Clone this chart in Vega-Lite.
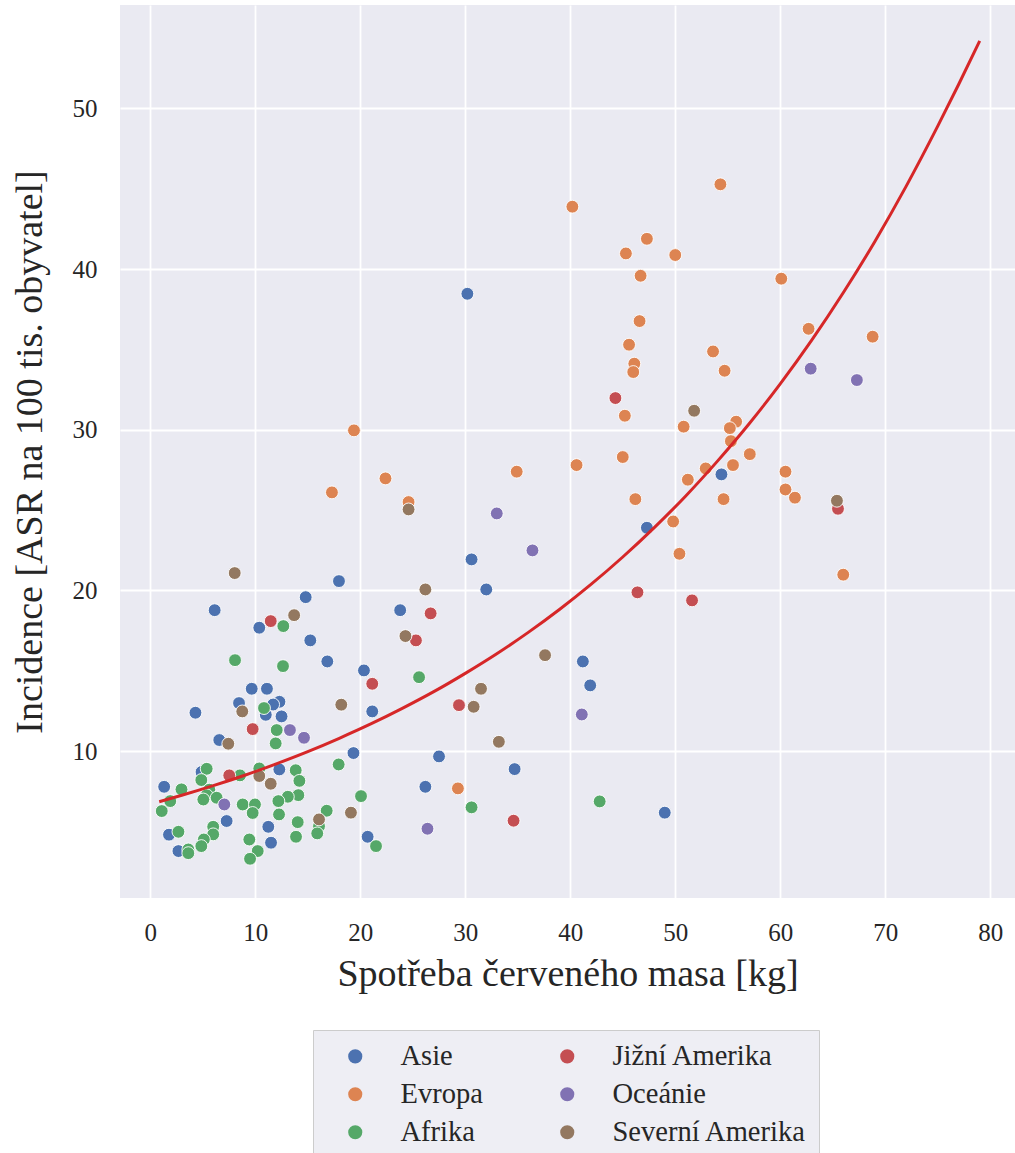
{
  "$schema": "https://vega.github.io/schema/vega-lite/v6.json",
  "width": 895,
  "height": 893,
  "autosize": {"type": "none"},
  "padding": {"left": 120, "top": 5, "right": 0, "bottom": 255},
  "background": "white",
  "config": {
    "view": {"fill": "#eaeaf2", "stroke": null},
    "axis": {
      "domain": false,
      "ticks": false,
      "grid": true,
      "gridColor": "white",
      "gridWidth": 1.8,
      "labelFont": "Liberation Serif",
      "labelFontSize": 25,
      "labelColor": "#262626",
      "titleFont": "Liberation Serif",
      "titleFontSize": 38,
      "titleFontWeight": "normal",
      "titleColor": "#262626"
    },
    "legend": {
      "labelFont": "Liberation Serif",
      "labelFontSize": 28.5,
      "labelColor": "#262626",
      "labelLimit": 400
    }
  },
  "datasets": {
    "points": [
      {"spotreba": 30.2, "incidence": 38.46, "kontinent": "Asie"},
      {"spotreba": 54.4, "incidence": 27.22, "kontinent": "Asie"},
      {"spotreba": 47.3, "incidence": 23.9, "kontinent": "Asie"},
      {"spotreba": 30.6, "incidence": 21.93, "kontinent": "Asie"},
      {"spotreba": 32.0, "incidence": 20.06, "kontinent": "Asie"},
      {"spotreba": 17.97, "incidence": 20.58, "kontinent": "Asie"},
      {"spotreba": 14.8, "incidence": 19.58, "kontinent": "Asie"},
      {"spotreba": 6.13, "incidence": 18.77, "kontinent": "Asie"},
      {"spotreba": 23.8, "incidence": 18.77, "kontinent": "Asie"},
      {"spotreba": 10.38, "incidence": 17.68, "kontinent": "Asie"},
      {"spotreba": 15.24, "incidence": 16.89, "kontinent": "Asie"},
      {"spotreba": 16.86, "incidence": 15.58, "kontinent": "Asie"},
      {"spotreba": 41.2, "incidence": 15.58, "kontinent": "Asie"},
      {"spotreba": 20.35, "incidence": 15.02, "kontinent": "Asie"},
      {"spotreba": 41.9, "incidence": 14.09, "kontinent": "Asie"},
      {"spotreba": 9.66, "incidence": 13.88, "kontinent": "Asie"},
      {"spotreba": 11.11, "incidence": 13.88, "kontinent": "Asie"},
      {"spotreba": 12.3, "incidence": 13.07, "kontinent": "Asie"},
      {"spotreba": 11.7, "incidence": 12.9, "kontinent": "Asie"},
      {"spotreba": 8.45, "incidence": 12.99, "kontinent": "Asie"},
      {"spotreba": 4.3, "incidence": 12.39, "kontinent": "Asie"},
      {"spotreba": 21.14, "incidence": 12.47, "kontinent": "Asie"},
      {"spotreba": 11.0, "incidence": 12.26, "kontinent": "Asie"},
      {"spotreba": 12.5, "incidence": 12.16, "kontinent": "Asie"},
      {"spotreba": 6.57, "incidence": 10.69, "kontinent": "Asie"},
      {"spotreba": 19.35, "incidence": 9.88, "kontinent": "Asie"},
      {"spotreba": 27.5, "incidence": 9.67, "kontinent": "Asie"},
      {"spotreba": 34.7, "incidence": 8.88, "kontinent": "Asie"},
      {"spotreba": 4.88, "incidence": 8.7, "kontinent": "Asie"},
      {"spotreba": 12.29, "incidence": 8.86, "kontinent": "Asie"},
      {"spotreba": 1.32, "incidence": 7.78, "kontinent": "Asie"},
      {"spotreba": 26.2, "incidence": 7.78, "kontinent": "Asie"},
      {"spotreba": 7.27, "incidence": 5.65, "kontinent": "Asie"},
      {"spotreba": 49.0, "incidence": 6.17, "kontinent": "Asie"},
      {"spotreba": 11.24, "incidence": 5.29, "kontinent": "Asie"},
      {"spotreba": 1.78, "incidence": 4.8, "kontinent": "Asie"},
      {"spotreba": 20.7, "incidence": 4.67, "kontinent": "Asie"},
      {"spotreba": 11.5, "incidence": 4.3, "kontinent": "Asie"},
      {"spotreba": 2.68, "incidence": 3.78, "kontinent": "Asie"},
      {"spotreba": 54.3, "incidence": 45.27, "kontinent": "Evropa"},
      {"spotreba": 40.2, "incidence": 43.88, "kontinent": "Evropa"},
      {"spotreba": 47.3, "incidence": 41.88, "kontinent": "Evropa"},
      {"spotreba": 45.3, "incidence": 40.97, "kontinent": "Evropa"},
      {"spotreba": 50.0, "incidence": 40.87, "kontinent": "Evropa"},
      {"spotreba": 46.7, "incidence": 39.58, "kontinent": "Evropa"},
      {"spotreba": 60.1, "incidence": 39.4, "kontinent": "Evropa"},
      {"spotreba": 46.6, "incidence": 36.76, "kontinent": "Evropa"},
      {"spotreba": 62.7, "incidence": 36.28, "kontinent": "Evropa"},
      {"spotreba": 68.8, "incidence": 35.79, "kontinent": "Evropa"},
      {"spotreba": 45.6, "incidence": 35.29, "kontinent": "Evropa"},
      {"spotreba": 53.6, "incidence": 34.87, "kontinent": "Evropa"},
      {"spotreba": 46.1, "incidence": 34.11, "kontinent": "Evropa"},
      {"spotreba": 46.0, "incidence": 33.59, "kontinent": "Evropa"},
      {"spotreba": 54.7, "incidence": 33.67, "kontinent": "Evropa"},
      {"spotreba": 45.2, "incidence": 30.87, "kontinent": "Evropa"},
      {"spotreba": 50.8, "incidence": 30.19, "kontinent": "Evropa"},
      {"spotreba": 55.8, "incidence": 30.5, "kontinent": "Evropa"},
      {"spotreba": 55.2, "incidence": 30.1, "kontinent": "Evropa"},
      {"spotreba": 55.3, "incidence": 29.29, "kontinent": "Evropa"},
      {"spotreba": 57.1, "incidence": 28.48, "kontinent": "Evropa"},
      {"spotreba": 45.0, "incidence": 28.3, "kontinent": "Evropa"},
      {"spotreba": 40.6, "incidence": 27.8, "kontinent": "Evropa"},
      {"spotreba": 34.9, "incidence": 27.39, "kontinent": "Evropa"},
      {"spotreba": 52.9, "incidence": 27.59, "kontinent": "Evropa"},
      {"spotreba": 55.5, "incidence": 27.8, "kontinent": "Evropa"},
      {"spotreba": 60.5, "incidence": 27.39, "kontinent": "Evropa"},
      {"spotreba": 51.2, "incidence": 26.89, "kontinent": "Evropa"},
      {"spotreba": 60.5, "incidence": 26.28, "kontinent": "Evropa"},
      {"spotreba": 61.4, "incidence": 25.77, "kontinent": "Evropa"},
      {"spotreba": 46.2, "incidence": 25.68, "kontinent": "Evropa"},
      {"spotreba": 54.6, "incidence": 25.68, "kontinent": "Evropa"},
      {"spotreba": 24.6, "incidence": 25.5, "kontinent": "Evropa"},
      {"spotreba": 49.8, "incidence": 24.29, "kontinent": "Evropa"},
      {"spotreba": 50.4, "incidence": 22.28, "kontinent": "Evropa"},
      {"spotreba": 66.0, "incidence": 20.98, "kontinent": "Evropa"},
      {"spotreba": 29.3, "incidence": 7.68, "kontinent": "Evropa"},
      {"spotreba": 19.4, "incidence": 29.96, "kontinent": "Evropa"},
      {"spotreba": 17.3, "incidence": 26.1, "kontinent": "Evropa"},
      {"spotreba": 22.4, "incidence": 26.97, "kontinent": "Evropa"},
      {"spotreba": 12.67, "incidence": 17.78, "kontinent": "Afrika"},
      {"spotreba": 8.07, "incidence": 15.66, "kontinent": "Afrika"},
      {"spotreba": 12.64, "incidence": 15.29, "kontinent": "Afrika"},
      {"spotreba": 25.6, "incidence": 14.6, "kontinent": "Afrika"},
      {"spotreba": 10.83, "incidence": 12.68, "kontinent": "Afrika"},
      {"spotreba": 12.04, "incidence": 11.31, "kontinent": "Afrika"},
      {"spotreba": 11.94, "incidence": 10.48, "kontinent": "Afrika"},
      {"spotreba": 17.94, "incidence": 9.17, "kontinent": "Afrika"},
      {"spotreba": 5.37, "incidence": 8.9, "kontinent": "Afrika"},
      {"spotreba": 4.86, "incidence": 8.2, "kontinent": "Afrika"},
      {"spotreba": 8.54, "incidence": 8.49, "kontinent": "Afrika"},
      {"spotreba": 10.38, "incidence": 8.92, "kontinent": "Afrika"},
      {"spotreba": 13.85, "incidence": 8.81, "kontinent": "Afrika"},
      {"spotreba": 14.2, "incidence": 8.15, "kontinent": "Afrika"},
      {"spotreba": 2.97, "incidence": 7.62, "kontinent": "Afrika"},
      {"spotreba": 5.62, "incidence": 7.6, "kontinent": "Afrika"},
      {"spotreba": 5.37, "incidence": 7.25, "kontinent": "Afrika"},
      {"spotreba": 5.05, "incidence": 6.99, "kontinent": "Afrika"},
      {"spotreba": 6.32, "incidence": 7.1, "kontinent": "Afrika"},
      {"spotreba": 1.9, "incidence": 6.89, "kontinent": "Afrika"},
      {"spotreba": 1.09, "incidence": 6.27, "kontinent": "Afrika"},
      {"spotreba": 20.07, "incidence": 7.2, "kontinent": "Afrika"},
      {"spotreba": 14.1, "incidence": 7.26, "kontinent": "Afrika"},
      {"spotreba": 13.1, "incidence": 7.16, "kontinent": "Afrika"},
      {"spotreba": 12.2, "incidence": 6.89, "kontinent": "Afrika"},
      {"spotreba": 12.26, "incidence": 6.06, "kontinent": "Afrika"},
      {"spotreba": 8.8, "incidence": 6.68, "kontinent": "Afrika"},
      {"spotreba": 9.97, "incidence": 6.68, "kontinent": "Afrika"},
      {"spotreba": 9.75, "incidence": 6.15, "kontinent": "Afrika"},
      {"spotreba": 30.6, "incidence": 6.5, "kontinent": "Afrika"},
      {"spotreba": 42.8, "incidence": 6.87, "kontinent": "Afrika"},
      {"spotreba": 16.8, "incidence": 6.29, "kontinent": "Afrika"},
      {"spotreba": 16.07, "incidence": 5.33, "kontinent": "Afrika"},
      {"spotreba": 15.9, "incidence": 4.88, "kontinent": "Afrika"},
      {"spotreba": 14.04, "incidence": 5.58, "kontinent": "Afrika"},
      {"spotreba": 13.88, "incidence": 4.67, "kontinent": "Afrika"},
      {"spotreba": 5.99, "incidence": 5.29, "kontinent": "Afrika"},
      {"spotreba": 5.99, "incidence": 4.82, "kontinent": "Afrika"},
      {"spotreba": 5.1, "incidence": 4.5, "kontinent": "Afrika"},
      {"spotreba": 4.86, "incidence": 4.09, "kontinent": "Afrika"},
      {"spotreba": 2.68, "incidence": 4.98, "kontinent": "Afrika"},
      {"spotreba": 3.62, "incidence": 3.88, "kontinent": "Afrika"},
      {"spotreba": 3.62, "incidence": 3.65, "kontinent": "Afrika"},
      {"spotreba": 9.43, "incidence": 4.5, "kontinent": "Afrika"},
      {"spotreba": 10.23, "incidence": 3.78, "kontinent": "Afrika"},
      {"spotreba": 9.5, "incidence": 3.3, "kontinent": "Afrika"},
      {"spotreba": 21.5, "incidence": 4.09, "kontinent": "Afrika"},
      {"spotreba": 44.3, "incidence": 31.97, "kontinent": "Jižní Amerika"},
      {"spotreba": 65.5, "incidence": 25.08, "kontinent": "Jižní Amerika"},
      {"spotreba": 46.4, "incidence": 19.88, "kontinent": "Jižní Amerika"},
      {"spotreba": 51.6, "incidence": 19.38, "kontinent": "Jižní Amerika"},
      {"spotreba": 11.47, "incidence": 18.09, "kontinent": "Jižní Amerika"},
      {"spotreba": 26.7, "incidence": 18.57, "kontinent": "Jižní Amerika"},
      {"spotreba": 25.3, "incidence": 16.89, "kontinent": "Jižní Amerika"},
      {"spotreba": 21.14, "incidence": 14.19, "kontinent": "Jižní Amerika"},
      {"spotreba": 29.4, "incidence": 12.86, "kontinent": "Jižní Amerika"},
      {"spotreba": 9.75, "incidence": 11.37, "kontinent": "Jižní Amerika"},
      {"spotreba": 7.52, "incidence": 8.49, "kontinent": "Jižní Amerika"},
      {"spotreba": 34.6, "incidence": 5.67, "kontinent": "Jižní Amerika"},
      {"spotreba": 62.9, "incidence": 33.8, "kontinent": "Oceánie"},
      {"spotreba": 67.3, "incidence": 33.09, "kontinent": "Oceánie"},
      {"spotreba": 33.0, "incidence": 24.79, "kontinent": "Oceánie"},
      {"spotreba": 36.4, "incidence": 22.49, "kontinent": "Oceánie"},
      {"spotreba": 41.1, "incidence": 12.28, "kontinent": "Oceánie"},
      {"spotreba": 13.3, "incidence": 11.31, "kontinent": "Oceánie"},
      {"spotreba": 14.64, "incidence": 10.83, "kontinent": "Oceánie"},
      {"spotreba": 7.05, "incidence": 6.68, "kontinent": "Oceánie"},
      {"spotreba": 26.4, "incidence": 5.17, "kontinent": "Oceánie"},
      {"spotreba": 51.8, "incidence": 31.18, "kontinent": "Severní Amerika"},
      {"spotreba": 65.4, "incidence": 25.58, "kontinent": "Severní Amerika"},
      {"spotreba": 24.6, "incidence": 25.04, "kontinent": "Severní Amerika"},
      {"spotreba": 8.04, "incidence": 21.08, "kontinent": "Severní Amerika"},
      {"spotreba": 26.2, "incidence": 20.06, "kontinent": "Severní Amerika"},
      {"spotreba": 13.7, "incidence": 18.46, "kontinent": "Severní Amerika"},
      {"spotreba": 24.3, "incidence": 17.16, "kontinent": "Severní Amerika"},
      {"spotreba": 37.6, "incidence": 15.97, "kontinent": "Severní Amerika"},
      {"spotreba": 31.5, "incidence": 13.88, "kontinent": "Severní Amerika"},
      {"spotreba": 18.19, "incidence": 12.89, "kontinent": "Severní Amerika"},
      {"spotreba": 30.8, "incidence": 12.76, "kontinent": "Severní Amerika"},
      {"spotreba": 8.76, "incidence": 12.47, "kontinent": "Severní Amerika"},
      {"spotreba": 33.2, "incidence": 10.58, "kontinent": "Severní Amerika"},
      {"spotreba": 7.43, "incidence": 10.46, "kontinent": "Severní Amerika"},
      {"spotreba": 10.38, "incidence": 8.45, "kontinent": "Severní Amerika"},
      {"spotreba": 11.47, "incidence": 7.97, "kontinent": "Severní Amerika"},
      {"spotreba": 19.11, "incidence": 6.17, "kontinent": "Severní Amerika"},
      {"spotreba": 16.07, "incidence": 5.75, "kontinent": "Severní Amerika"}
    ],
    "curve": [
      {"spotreba": 0.85, "incidence": 6.85},
      {"spotreba": 3, "incidence": 7.25},
      {"spotreba": 6, "incidence": 7.85},
      {"spotreba": 9, "incidence": 8.5},
      {"spotreba": 12, "incidence": 9.21},
      {"spotreba": 15, "incidence": 9.97},
      {"spotreba": 18, "incidence": 10.8},
      {"spotreba": 21, "incidence": 11.69},
      {"spotreba": 24, "incidence": 12.66},
      {"spotreba": 27, "incidence": 13.7},
      {"spotreba": 30, "incidence": 14.84},
      {"spotreba": 33, "incidence": 16.06},
      {"spotreba": 36, "incidence": 17.39},
      {"spotreba": 39, "incidence": 18.83},
      {"spotreba": 42, "incidence": 20.39},
      {"spotreba": 45, "incidence": 22.08},
      {"spotreba": 48, "incidence": 23.91},
      {"spotreba": 51, "incidence": 25.88},
      {"spotreba": 54, "incidence": 28.03},
      {"spotreba": 57, "incidence": 30.34},
      {"spotreba": 60, "incidence": 32.85},
      {"spotreba": 63, "incidence": 35.57},
      {"spotreba": 66, "incidence": 38.52},
      {"spotreba": 69, "incidence": 41.7},
      {"spotreba": 72, "incidence": 45.16},
      {"spotreba": 75, "incidence": 48.89},
      {"spotreba": 77, "incidence": 51.5},
      {"spotreba": 79, "incidence": 54.2}
    ]
  },
  "layer": [
    {
      "data": {"name": "points"},
      "mark": {"type": "circle", "size": 165, "opacity": 1, "stroke": "white", "strokeWidth": 0.9},
      "encoding": {
        "x": {
          "field": "spotreba",
          "type": "quantitative",
          "scale": {"domain": [-2.886, 82.36], "nice": false, "zero": false},
          "axis": {"values": [0, 10, 20, 30, 40, 50, 60, 70, 80], "title": "Spotřeba červeného masa [kg]", "labelPadding": 22, "titlePadding": 10}
        },
        "y": {
          "field": "incidence",
          "type": "quantitative",
          "scale": {"domain": [0.86, 56.43], "nice": false, "zero": false},
          "axis": {"values": [10, 20, 30, 40, 50], "title": "Incidence [ASR na 100 tis. obyvatel]", "labelPadding": 23, "titlePadding": 23}
        },
        "color": {
          "field": "kontinent",
          "type": "nominal",
          "scale": {
            "domain": ["Asie", "Evropa", "Afrika", "Jižní Amerika", "Oceánie", "Severní Amerika"],
            "range": ["#4c72b0", "#dd8452", "#55a868", "#c44e52", "#8172b3", "#937860"]
          },
          "legend": {
            "title": null,
            "orient": "none",
            "legendX": 193,
            "legendY": 1025,
            "columns": 2,
            "columnPadding": 54,
            "rowPadding": 9,
            "padding": 12,
            "symbolOffset": 16,
            "symbolSize": 200,
            "symbolType": "circle",
            "symbolStrokeWidth": 0,
            "labelOffset": 31,
            "labelLimit": 400,
            "fillColor": "#eeeef4",
            "strokeColor": "#cccccc",
            "cornerRadius": 0
          }
        }
      }
    },
    {
      "data": {"name": "curve"},
      "mark": {"type": "line", "color": "#d62728", "strokeWidth": 3, "interpolate": "monotone"},
      "encoding": {
        "x": {"field": "spotreba", "type": "quantitative"},
        "y": {"field": "incidence", "type": "quantitative"}
      }
    }
  ]
}
